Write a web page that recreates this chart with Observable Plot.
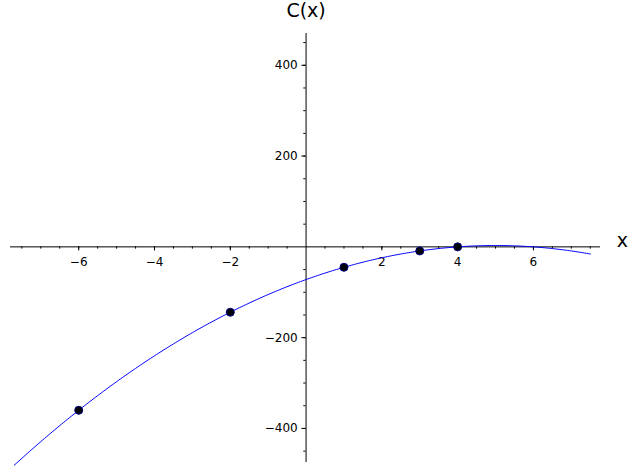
<!DOCTYPE html>
<html>
<head>
<meta charset="utf-8">
<script src="https://cdn.jsdelivr.net/npm/d3@7"></script>
<script src="https://cdn.jsdelivr.net/npm/@observablehq/plot@0.6"></script>
<style>body{margin:0;background:#fff}</style>
</head>
<body>
<div id="chart"></div>
<script>
// C(x) = a x^2 + b x + c, read from the marked points
const coef = [-3, 30, -72];
const pointsX = [-6, -2, 1, 3, 4];
const pointsY = [-360, -144, -45, -9, 0];
const xTicks = [-6, -4, -2, 2, 4, 6];
const yTicks = [-400, -200, 200, 400];
const xMinor = d3.range(-7.5, 7.6, 0.5).filter(v => v !== 0);
const yMinor = d3.range(-450, 451, 50).filter(v => v !== 0);

const C = x => coef[0] * x * x + coef[1] * x + coef[2];
const curve = d3.range(-7.7, 7.5001, 0.05).map(x => ({x, y: C(x)}));
const pts = pointsX.map((x, i) => ({x, y: pointsY[i]}));

let chart = Plot.plot({
  width: 630,
  height: 470,
  marginLeft: 10,
  marginRight: 30,
  marginTop: 33,
  marginBottom: 8,
  x: {domain: [-7.8, 7.77], axis: null},
  y: {domain: [-475, 470], axis: null},
  style: {fontFamily: "DejaVu Sans", fontSize: "12px", overflow: "visible"},
  marks: [
    Plot.ruleY([0], {stroke: "black", strokeWidth: 1}),
    Plot.ruleX([0], {stroke: "black", strokeWidth: 1}),
    Plot.ruleX(xTicks, {x: d => d, y1: 0, y2: -9, stroke: "black"}),
    Plot.ruleX(xMinor, {x: d => d, y1: 0, y2: -5, stroke: "black"}),
    Plot.ruleY(yTicks, {y: d => d, x1: 0, x2: -0.11, stroke: "black"}),
    Plot.ruleY(yMinor, {y: d => d, x1: 0, x2: -0.06, stroke: "black"}),
    Plot.text(xTicks, {x: d => d, y: -34, text: d => String(d).replace("-", "\u2212"), fill: "black"}),
    Plot.text(yTicks, {x: -0.22, y: d => d, text: d => String(d).replace("-", "\u2212"), textAnchor: "end", fill: "black"}),
    Plot.line(curve, {x: "x", y: "y", stroke: "blue", strokeWidth: 1}),
    Plot.dot(pts, {x: "x", y: "y", r: 4, fill: "black", stroke: "#000080", strokeWidth: 1}),
    Plot.text(["x"], {x: 8.35, y: 13, text: d => d, fontSize: 19, fill: "black"}),
    Plot.text(["C(x)"], {x: 0, y: 520, text: d => d, fontSize: 19, fill: "black"})
  ]
});
d3.select("#chart").append(() => chart);
</script>
</body>
</html>
